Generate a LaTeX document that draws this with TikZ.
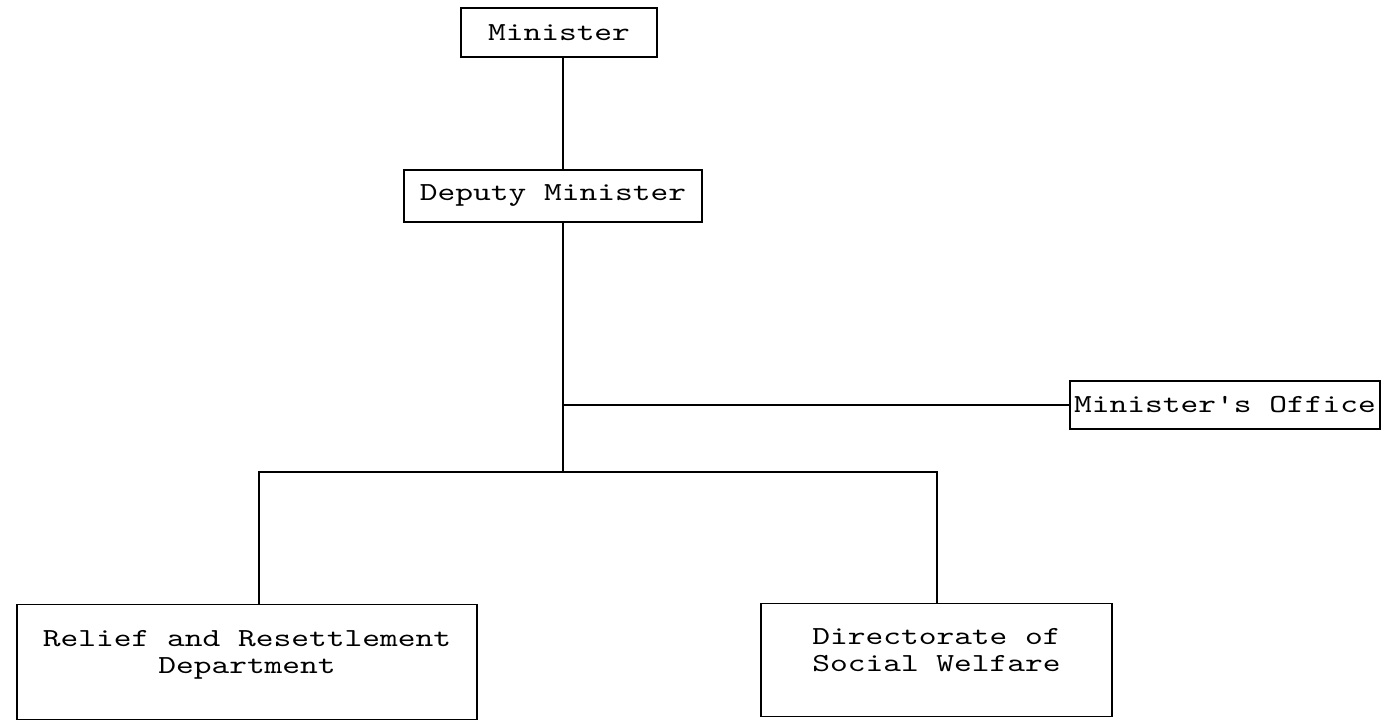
\documentclass[tikz,border=0pt]{standalone}
\usepackage{fontspec}
\newfontfamily\orgfont{lmmono10-regular}[Extension=.otf,FakeStretch=1.3,Ligatures=ResetAll]
\usepackage{tikz}

\tikzset{
  orgbox/.style={draw=black, line width=1.8pt, align=center, inner sep=0pt,
    font=\orgfont\fontsize{26}{27}\selectfont},
  orgline/.style={draw=black, line width=1.6pt},
}

\begin{document}
\begin{tikzpicture}[x=1pt,y=-1pt]
\useasboundingbox (0,0) rectangle (1387,724);
% the trunk and the bus
\coordinate (spine) at (563,0);
\coordinate (bus) at (563,472);
\coordinate (leftdrop) at (259,472);
\coordinate (rightdrop) at (937,472);
% boxes
\node[orgbox, minimum width=196, minimum height=49] (minister) at (559,32.5) {Minister};
\node[orgbox, minimum width=298, minimum height=52] (deputy) at (553,196) {Deputy Minister};
\node[orgbox, minimum width=310, minimum height=48] (office) at (1225,405) {Minister's Office};
\node[orgbox, minimum width=460, minimum height=115, text depth=20pt] (relief) at (247,662) {Relief and Resettlement\\Department};
\node[orgbox, minimum width=351, minimum height=113, text depth=20pt] (welfare) at (936.5,660) {Directorate of\\Social Welfare};
% lines
\draw[orgline] (minister.south -| spine) -- (deputy.north -| spine);
\draw[orgline] (deputy.south -| spine) -- (bus);
\draw[orgline] (office.west) -- (office.west -| spine);
\draw[orgline] (relief.north -| leftdrop) -- (leftdrop) -- (rightdrop) -- (welfare.north -| rightdrop);
\end{tikzpicture}
\end{document}
